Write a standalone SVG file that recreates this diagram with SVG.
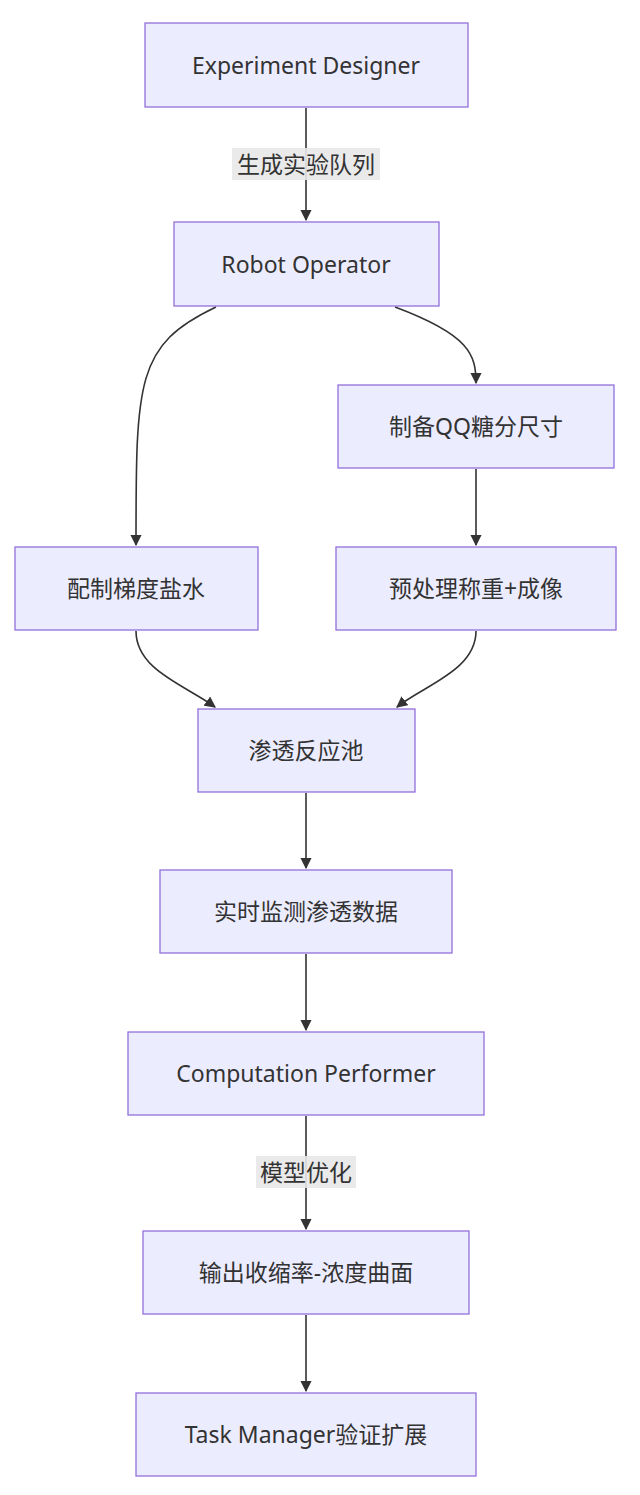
<svg xmlns="http://www.w3.org/2000/svg" width="640" height="1495" viewBox="0 0 640 1495">
<style>
.n rect{fill:#ECECFF;stroke:#9370DB;stroke-width:1.3}
text{font-family:"Noto Sans","Noto Sans CJK SC",sans-serif;font-size:23px;fill:#333;text-anchor:middle;dominant-baseline:central}
.e path{fill:none;stroke:#333;stroke-width:1.6;marker-end:url(#a)}
.lb{fill:#e8e8e8;opacity:0.9}
</style>
<defs><marker id="a" viewBox="0 0 10 10" refX="9" refY="5" markerWidth="7" markerHeight="7" orient="auto"><path d="M0,0L10,5L0,10z" fill="#333"/></marker></defs>
<rect width="640" height="1495" fill="#fff"/>
<g class="e">
<path d="M306,108V220"/>
<path d="M216,307C136,345 136,380 136,545"/>
<path d="M395,307C470,335 476,355 476,383"/>
<path d="M476,469V545"/>
<path d="M136,631C136,670 185,685 215,707"/>
<path d="M476,631C476,670 425,685 397,707"/>
<path d="M306,793V868"/>
<path d="M306,954V1030"/>
<path d="M306,1116V1229"/>
<path d="M306,1315V1391"/>
<rect class="lb" x="232" y="148" width="148" height="32"/><text x="306" y="164">生成实验队列</text>
<rect class="lb" x="256" y="1156" width="100" height="32"/><text x="306" y="1172">模型优化</text>
</g>
<g id="n1" class="n"><rect x="145" y="23" width="323" height="84"/><text x="306" y="65">Experiment Designer</text></g>
<g id="n2" class="n"><rect x="174" y="222" width="265" height="84"/><text x="306" y="264">Robot Operator</text></g>
<g id="n3" class="n"><rect x="338" y="385" width="276" height="83"/><text x="476" y="426">制备QQ糖分尺寸</text></g>
<g id="n4" class="n"><rect x="15" y="547" width="243" height="83"/><text x="136" y="588">配制梯度盐水</text></g>
<g id="n5" class="n"><rect x="336" y="547" width="280" height="83"/><text x="476" y="588">预处理称重+成像</text></g>
<g id="n6" class="n"><rect x="198" y="709" width="217" height="83"/><text x="306" y="750">渗透反应池</text></g>
<g id="n7" class="n"><rect x="160" y="870" width="292" height="83"/><text x="306" y="911">实时监测渗透数据</text></g>
<g id="n8" class="n"><rect x="128" y="1032" width="356" height="83"/><text x="306" y="1073">Computation Performer</text></g>
<g id="n9" class="n"><rect x="143" y="1231" width="326" height="83"/><text x="306" y="1272">输出收缩率-浓度曲面</text></g>
<g id="n10" class="n"><rect x="136" y="1393" width="340" height="83"/><text x="306" y="1434">Task Manager验证扩展</text></g>
</svg>
